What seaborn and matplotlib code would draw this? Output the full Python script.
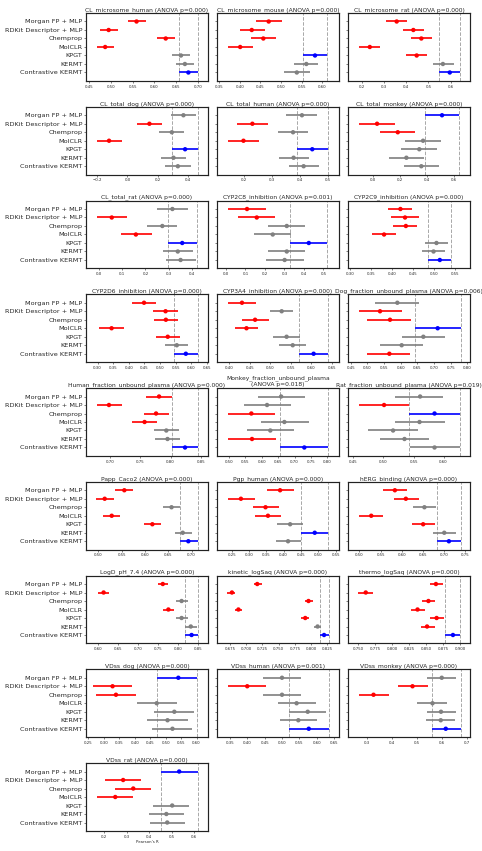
import numpy as np
import pandas as pd
import matplotlib
matplotlib.use("Agg")
import matplotlib.pyplot as plt
import seaborn as sns
from matplotlib.ticker import MaxNLocator

#########################################################
# DATA (Pearson's R, mean and 95% CI per model / endpoint)
#########################################################

models = ["Morgan FP + MLP", "RDKit Descriptor + MLP", "Chemprop", "MolCLR",
          "KPGT", "KERMT", "Contrastive KERMT"]

endpoints = ["CL_microsome_human", "CL_microsome_mouse", "CL_microsome_rat",
             "CL_total_dog", "CL_total_human", "CL_total_monkey",
             "CL_total_rat", "CYP2C8_inhibition", "CYP2C9_inhibition",
             "CYP2D6_inhibition", "CYP3A4_inhibition", "Dog_fraction_unbound_plasma",
             "Human_fraction_unbound_plasma", "Monkey_fraction_unbound_plasma",
             "Rat_fraction_unbound_plasma",
             "Papp_Caco2", "Pgp_human", "hERG_binding",
             "LogD_pH_7.4", "kinetic_logSaq", "thermo_logSaq",
             "VDss_dog", "VDss_human", "VDss_monkey", "VDss_rat"]

anova_p = ["0.000", "0.000", "0.000", "0.000", "0.000", "0.000",
           "0.000", "0.001", "0.000", "0.000", "0.000", "0.006",
           "0.000", "0.018", "0.019", "0.000", "0.000", "0.000",
           "0.000", "0.000", "0.000", "0.000", "0.001", "0.000", "0.000"]

mean_r = [
    [0.559, 0.495, 0.626, 0.487, 0.661, 0.670, 0.678],
    [0.470, 0.429, 0.457, 0.401, 0.582, 0.561, 0.538],
    [0.357, 0.432, 0.468, 0.236, 0.447, 0.565, 0.596],
    [0.372, 0.146, 0.295, -0.122, 0.383, 0.306, 0.335],
    [0.408, 0.230, 0.376, 0.198, 0.445, 0.378, 0.414],
    [0.513, 0.030, 0.184, 0.372, 0.344, 0.248, 0.359],
    [0.315, 0.056, 0.272, 0.159, 0.357, 0.338, 0.350],
    [0.108, 0.158, 0.312, 0.240, 0.425, 0.312, 0.301],
    [0.420, 0.431, 0.433, 0.381, 0.506, 0.499, 0.514],
    [0.449, 0.518, 0.519, 0.345, 0.525, 0.554, 0.583],
    [0.431, 0.528, 0.463, 0.442, 0.540, 0.555, 0.606],
    [0.590, 0.538, 0.568, 0.711, 0.668, 0.603, 0.566],
    [0.781, 0.698, 0.776, 0.757, 0.793, 0.795, 0.824],
    [0.659, 0.616, 0.568, 0.669, 0.626, 0.570, 0.730],
    [0.561, 0.501, 0.585, 0.560, 0.516, 0.535, 0.585],
    [0.556, 0.514, 0.657, 0.529, 0.616, 0.681, 0.693],
    [0.390, 0.277, 0.348, 0.355, 0.419, 0.490, 0.413],
    [0.584, 0.610, 0.654, 0.528, 0.651, 0.701, 0.712],
    [0.761, 0.613, 0.808, 0.775, 0.808, 0.831, 0.833],
    [0.717, 0.678, 0.796, 0.688, 0.791, 0.810, 0.820],
    [0.864, 0.761, 0.853, 0.837, 0.865, 0.851, 0.889],
    [0.541, 0.328, 0.339, 0.471, 0.528, 0.506, 0.522],
    [0.500, 0.400, 0.500, 0.542, 0.574, 0.547, 0.577],
    [0.600, 0.483, 0.327, 0.563, 0.597, 0.596, 0.616],
    [0.533, 0.284, 0.329, 0.249, 0.502, 0.476, 0.480],
]

ci_low = [
    [0.539, 0.475, 0.607, 0.468, 0.641, 0.649, 0.657],
    [0.440, 0.400, 0.427, 0.372, 0.552, 0.530, 0.508],
    [0.309, 0.384, 0.420, 0.188, 0.399, 0.519, 0.547],
    [0.290, 0.062, 0.211, -0.203, 0.299, 0.224, 0.250],
    [0.352, 0.174, 0.322, 0.142, 0.390, 0.325, 0.360],
    [0.384, -0.102, 0.054, 0.240, 0.210, 0.117, 0.228],
    [0.250, -0.009, 0.208, 0.095, 0.295, 0.276, 0.288],
    [0.012, 0.063, 0.215, 0.144, 0.330, 0.217, 0.203],
    [0.391, 0.398, 0.403, 0.352, 0.478, 0.471, 0.486],
    [0.411, 0.479, 0.481, 0.305, 0.486, 0.516, 0.545],
    [0.398, 0.500, 0.430, 0.414, 0.506, 0.521, 0.571],
    [0.523, 0.476, 0.500, 0.643, 0.603, 0.538, 0.498],
    [0.760, 0.678, 0.756, 0.737, 0.773, 0.775, 0.803],
    [0.588, 0.546, 0.497, 0.598, 0.555, 0.497, 0.657],
    [0.519, 0.459, 0.543, 0.519, 0.474, 0.494, 0.544],
    [0.537, 0.496, 0.639, 0.511, 0.598, 0.664, 0.676],
    [0.352, 0.239, 0.312, 0.317, 0.380, 0.450, 0.377],
    [0.557, 0.582, 0.626, 0.500, 0.624, 0.674, 0.683],
    [0.748, 0.598, 0.794, 0.761, 0.794, 0.817, 0.817],
    [0.712, 0.671, 0.791, 0.682, 0.785, 0.805, 0.814],
    [0.855, 0.750, 0.843, 0.827, 0.855, 0.842, 0.878],
    [0.471, 0.264, 0.275, 0.406, 0.463, 0.441, 0.457],
    [0.445, 0.345, 0.445, 0.488, 0.520, 0.493, 0.520],
    [0.540, 0.424, 0.267, 0.500, 0.540, 0.537, 0.560],
    [0.453, 0.204, 0.250, 0.170, 0.418, 0.398, 0.402],
]

ci_high = [
    [0.580, 0.517, 0.647, 0.508, 0.682, 0.691, 0.699],
    [0.501, 0.460, 0.488, 0.432, 0.612, 0.590, 0.569],
    [0.404, 0.480, 0.515, 0.284, 0.495, 0.613, 0.642],
    [0.454, 0.229, 0.379, -0.037, 0.468, 0.388, 0.419],
    [0.462, 0.287, 0.431, 0.253, 0.500, 0.435, 0.468],
    [0.642, 0.161, 0.315, 0.506, 0.476, 0.381, 0.493],
    [0.380, 0.122, 0.336, 0.226, 0.421, 0.402, 0.415],
    [0.203, 0.254, 0.407, 0.334, 0.520, 0.407, 0.398],
    [0.448, 0.464, 0.460, 0.410, 0.534, 0.527, 0.541],
    [0.487, 0.557, 0.558, 0.385, 0.564, 0.591, 0.621],
    [0.466, 0.556, 0.497, 0.470, 0.573, 0.587, 0.640],
    [0.656, 0.603, 0.630, 0.780, 0.733, 0.668, 0.628],
    [0.803, 0.720, 0.797, 0.777, 0.814, 0.815, 0.845],
    [0.732, 0.689, 0.641, 0.743, 0.697, 0.642, 0.803],
    [0.599, 0.543, 0.628, 0.602, 0.557, 0.576, 0.627],
    [0.574, 0.534, 0.676, 0.547, 0.634, 0.700, 0.713],
    [0.429, 0.317, 0.386, 0.393, 0.457, 0.529, 0.450],
    [0.612, 0.641, 0.681, 0.555, 0.679, 0.729, 0.740],
    [0.773, 0.627, 0.823, 0.790, 0.823, 0.846, 0.848],
    [0.724, 0.683, 0.803, 0.694, 0.797, 0.816, 0.827],
    [0.875, 0.772, 0.863, 0.848, 0.876, 0.862, 0.900],
    [0.602, 0.392, 0.404, 0.536, 0.593, 0.571, 0.586],
    [0.555, 0.455, 0.555, 0.598, 0.628, 0.602, 0.634],
    [0.657, 0.543, 0.387, 0.620, 0.656, 0.653, 0.676],
    [0.615, 0.364, 0.408, 0.328, 0.578, 0.556, 0.558],
]

# b = best model, r = significantly worse, g = not significantly different
status = ["rrrrggb", "rrrrbgg", "rrrrrgb",
          "grgrbgg", "grgrbgg", "brrgggg",
          "grgrbgg", "rrggbgg", "rrrrggb",
          "rrrrrgb", "rgrrggb", "grrbggr",
          "rrrrggb", "ggrggrb", "grbgggg",
          "rrgrrgb", "rrrrgbg", "rrgrrgb",
          "rrgrggb", "rrrrrgb", "rrrrrrb",
          "brrgggg", "grggggb", "grrgggb",
          "brrrggg"]

# x-axis range of each panel
x_min = [0.443, 0.345, 0.138, -0.275, 0.103, -0.186, -0.054, -0.046, 0.295,
         0.263, 0.370, 0.442, 0.660, 0.463, 0.441, 0.474, 0.208, 0.473,
         0.569, 0.655, 0.735, 0.242, 0.313, 0.225, 0.119]
x_max = [0.723, 0.640, 0.687, 0.535, 0.541, 0.721, 0.467, 0.580, 0.586,
         0.654, 0.668, 0.808, 0.862, 0.836, 0.644, 0.735, 0.560, 0.762,
         0.874, 0.843, 0.914, 0.637, 0.664, 0.713, 0.661]

palette = {"b": "blue", "r": "red", "g": "gray"}

#########################################################
# FIGURE
#########################################################

sns.set_theme(style="ticks")
plt.rcParams["font.family"] = ["DejaVu Sans"]

DPI = 482 / 14
fig, axes = plt.subplots(9, 3, figsize=(14, 851 / DPI))
fig.subplots_adjust(left=86 / 482, right=470 / 482, top=1 - 13 / 851,
                    bottom=1 - 831 / 851, wspace=0.074, hspace=0.379)

ypos = np.arange(len(models))

for i, name in enumerate(endpoints):
    ax = axes.flat[i]
    df = pd.DataFrame({"y": ypos, "r": mean_r[i], "lo": ci_low[i],
                       "hi": ci_high[i], "sig": list(status[i])})
    cols = [palette[s] for s in df["sig"]]

    ax.hlines(df["y"], df["lo"], df["hi"], colors=cols, lw=3.5, zorder=2)
    sns.scatterplot(data=df, x="r", y="y", hue="sig", palette=palette,
                    s=85, edgecolor="none", legend=False, ax=ax, zorder=3)

    # dashed lines mark the CI of the best model
    best = df[df["sig"] == "b"].iloc[0]
    ax.axvline(best["lo"], ls="--", color="gray", lw=2, alpha=0.7, zorder=1)
    ax.axvline(best["hi"], ls="--", color="gray", lw=2, alpha=0.7, zorder=1)

    if len(name) > 29:
        title = f"{name}\n(ANOVA p={anova_p[i]})"
    else:
        title = f"{name} (ANOVA p={anova_p[i]})"
    ax.set_title(title, fontsize=12.5, pad=4)

    ax.set_ylim(7, -1)
    ax.set_yticks(ypos)
    if i % 3 == 0:
        ax.set_yticklabels(models, fontsize=13.5)
    else:
        ax.set_yticklabels([])
    ax.set_xlim(x_min[i], x_max[i])
    ax.xaxis.set_major_locator(MaxNLocator(nbins=8, steps=[1, 2, 2.5, 5, 10]))
    ax.tick_params(axis="x", labelsize=8, length=4, width=1.2)
    ax.tick_params(axis="y", length=4, width=1.2)
    ax.set_xlabel("")
    ax.set_ylabel("")
    for sp in ax.spines.values():
        sp.set_linewidth(2.5)
        sp.set_color("#222222")

axes.flat[24].set_xlabel("Pearson's R", fontsize=8)
for ax in axes.flat[len(endpoints):]:
    ax.axis("off")

fig.savefig("out.png", dpi=DPI)
